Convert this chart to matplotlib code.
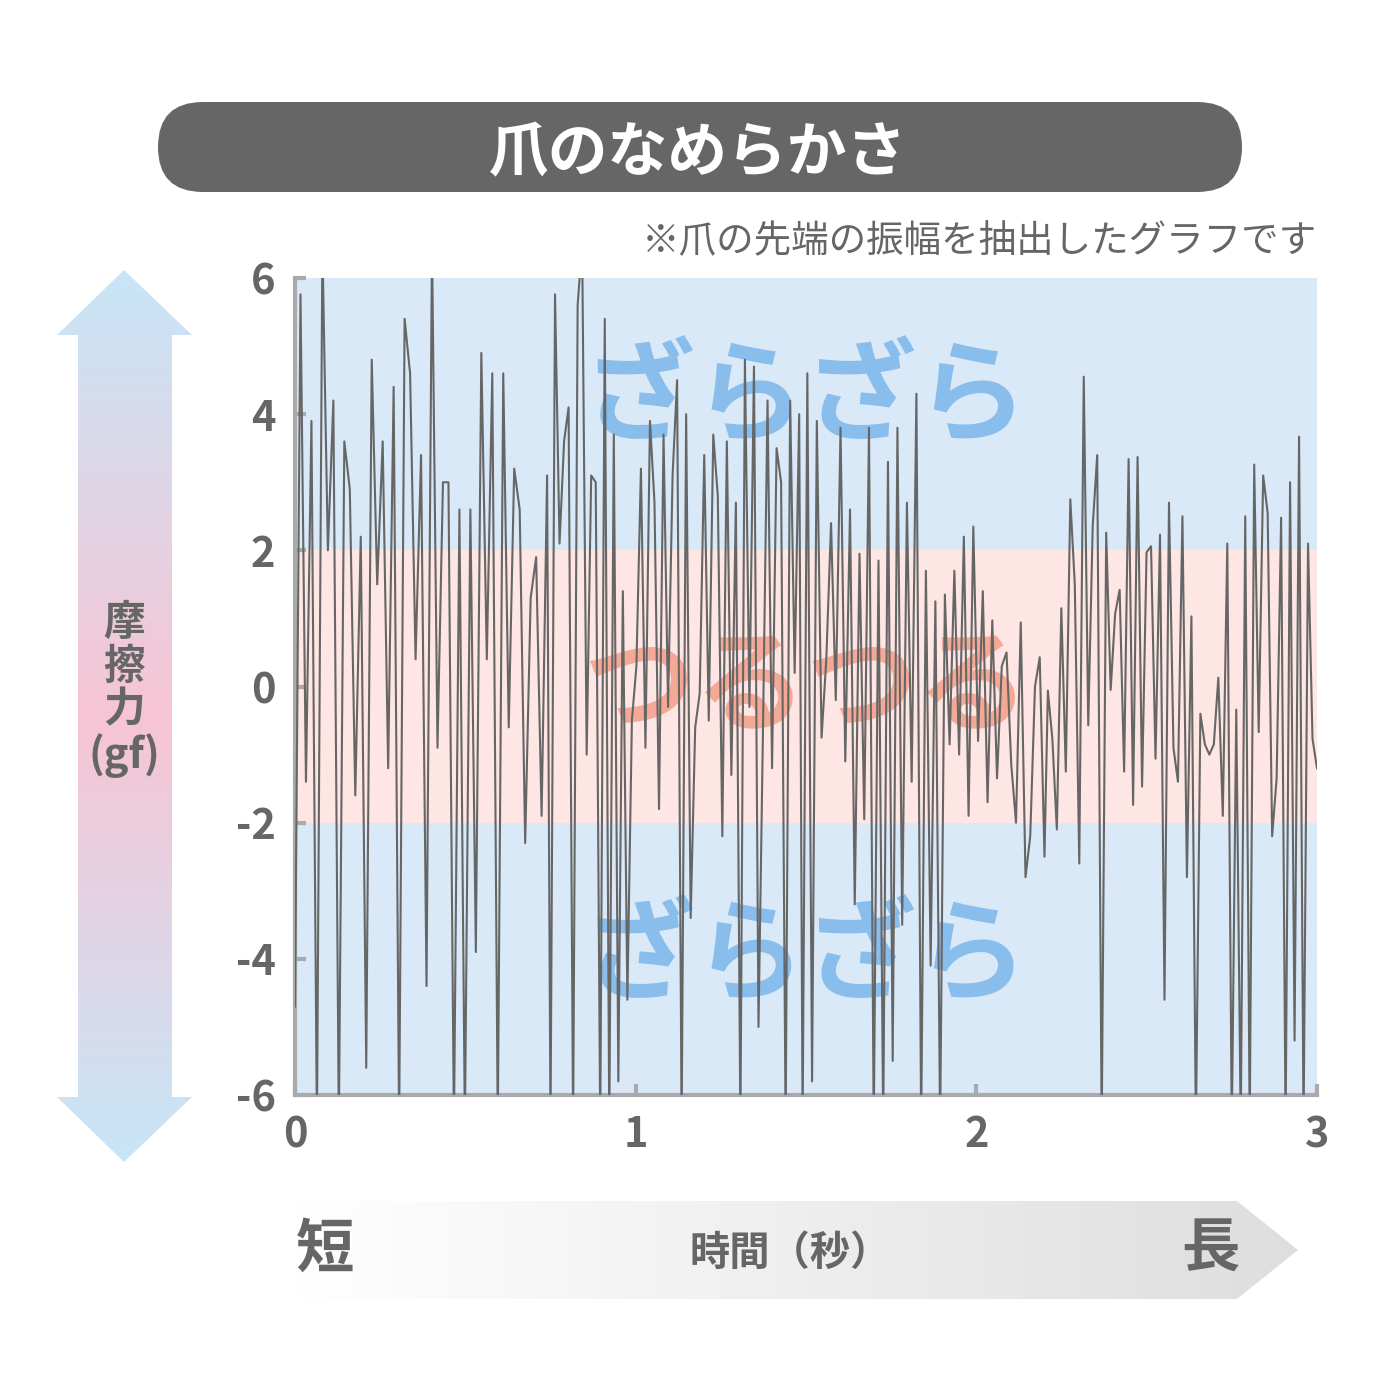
import numpy as np
import matplotlib
matplotlib.use("Agg")
import matplotlib.pyplot as plt
from matplotlib.patches import FancyBboxPatch, Polygon

plt.rcParams['font.family'] = ['Noto Sans CJK JP', 'DejaVu Sans']

title = "爪のなめらかさ"
note = "※爪の先端の振幅を抽出したグラフです"
ylabel = "摩\n擦\n力\n(gf)"
xlabel = "時間（秒）"
yticks = [-6, -4, -2, 0, 2, 4, 6]
xticks = [0, 1, 2, 3]

seg1 = [-4.7,5.76,-1.4,3.9,-6.5,6.5,2.0,4.2,-6.5,3.6,2.9,-1.6,2.2,-5.6,4.8,1.5,3.6,-1.2,4.4,-6.5,5.4,4.6,0.4,3.4,-4.4,6.5,-0.9,3.0,3.0,-6.5,2.6,-6.5,2.6,-3.9,4.9,0.4,4.6,-6.5,4.6,-0.6,3.2,2.6,-2.3,1.3,1.9,-1.9,3.1]
seg2 = [-6.5,5.76,2.1,3.6,4.1,-6.5,5.6,6.5,-1.0,3.1,3.0,-6.5,5.4,-6.5,3.7,-5.8,1.4,-4.6,-0.5,0.3,3.2,-0.9,3.9,2.7,-1.8,3.7,-0.3,3.1,4.5,-6.5,4.0,-3.4,-0.6,-0.1,3.4,-0.5,3.7,2.8,-2.2,3.6,-1.3,2.7,-6.5,4.8,-0.3,4.7,-5.0,-0.6,4.2,-1.2,3.5,3.0,-6.5,4.2,0.2,4.0]
seg3 = [-6.5,4.6,-5.8,3.9,-0.75,0.4,2.4,-0.2,3.8,-1.1,2.6,-3.2,1.95,-1.95,3.8,-6.5,1.85,-6.5,3.3,-5.5,3.8,-3.5,2.7,-1.4,4.3,-6.5,1.7,-4.1,1.25,-6.5,1.35,-0.85,1.7,-1.0,2.2,-1.9,2.35,-0.8,1.4,-1.7,0.97,-1.35,0.3,0.5,-1.15,-2.0,0.94,-2.8,-2.2,0.0,0.43,-2.5]
seg4 = [-0.06,-0.77,-2.1,1.15,-1.25,2.75,1.5,-2.6,4.55,-0.57,2.36,3.4,-6.5,2.26,-0.05,1.07,1.42,-1.25,3.34,-1.74,3.37,-1.47,1.97,2.06,-1.06,2.23,-4.6,2.7,-0.9,-1.4,2.5,-2.8,1.03,-6.5,-0.4,-0.85,-1.0,-0.85,0.13,-1.9,2.1,-6.5,-0.34,-6.5,2.5,-6.5,3.26,-0.67,3.1,2.55,-2.2,-1.35,2.48,-6.5,3.0,-5.2,3.67,-6.5,2.1,-0.77,-1.2]
seg_bounds = [(0.0, 0.74), (0.75, 1.48), (1.49, 2.20), (2.21, 3.0)]

t = np.concatenate([np.linspace(a, b, len(s)) for (a, b), s in zip(seg_bounds, [seg1, seg2, seg3, seg4])])
v = np.concatenate([seg1, seg2, seg3, seg4])

W = H = 1400
fig = plt.figure(figsize=(14, 14), dpi=100)
bg = fig.add_axes([0, 0, 1, 1], zorder=0)
bg.set_xlim(0, W); bg.set_ylim(H, 0); bg.axis('off')

# title banner
bg.add_patch(FancyBboxPatch((158, 102), 1084, 90, boxstyle="round,pad=0,rounding_size=45", fc='#666666', ec='none'))
bg.text(698, 154, title, color='white', fontsize=43, fontweight='bold', ha='center', va='center')
bg.text(1317, 242, note, color='#666666', fontsize=27, ha='right', va='center')

# vertical gradient arrow
vpoly = Polygon([(124, 270), (192, 335), (172, 335), (172, 1097), (192, 1097), (124, 1162),
                 (57, 1097), (78, 1097), (78, 335), (57, 335)], closed=True, fc='none', ec='none')
bg.add_patch(vpoly)
yy = np.linspace(0, 1, 256)
blue = np.array([0.78, 0.90, 0.97]); pink = np.array([0.97, 0.77, 0.83])
w = 1 - np.abs(yy - 0.5) * 2
col = blue[None, :] * (1 - w[:, None]) + pink[None, :] * w[:, None]
im = bg.imshow(col[:, None, :], extent=(57, 192, 1162, 270), aspect='auto', zorder=1)
im.set_clip_path(vpoly)
bg.text(124, 690, ylabel, color='#666666', fontsize=30, fontweight='bold', ha='center', va='center',
        linespacing=1.05)

# horizontal gradient arrow
hpoly = Polygon([(295, 1201), (1237, 1201), (1298, 1250), (1237, 1299), (295, 1299)], closed=True, fc='none', ec='none')
bg.add_patch(hpoly)
xx = np.linspace(0, 1, 256)
hcol = np.ones((1, 256, 3)) * (1 - 0.13 * xx)[None, :, None]
im2 = bg.imshow(hcol, extent=(295, 1298, 1299, 1201), aspect='auto', zorder=1)
im2.set_clip_path(hpoly)
bg.text(325, 1250, "短", color='#666666', fontsize=42, fontweight='bold', ha='center', va='center')
bg.text(1210, 1250, "長", color='#666666', fontsize=42, fontweight='bold', ha='center', va='center')
bg.text(790, 1253, xlabel, color='#666666', fontsize=29, fontweight='bold', ha='center', va='center')

# main axes
ax = fig.add_axes([295 / W, 1 - 1095 / H, 1022 / W, 817 / H], zorder=2)
ax.set_xlim(0, 3); ax.set_ylim(-6, 6)
ax.axhspan(2, 6, color='#d9e9f7', zorder=0, lw=0)
ax.axhspan(-6, -2, color='#d9e9f7', zorder=0, lw=0)
ax.axhspan(-2, 2, color='#fde6e3', zorder=0, lw=0)
ax.text(1.5, 4.2, "ざらざら", color='#88bdec', fontsize=80, fontweight='bold', ha='center', va='center', zorder=1)
ax.text(1.5, -0.05, "つるつる", color='#f4a996', fontsize=80, fontweight='bold', ha='center', va='center', zorder=1)
ax.text(1.5, -4.0, "ざらざら", color='#88bdec', fontsize=80, fontweight='bold', ha='center', va='center', zorder=1)
ax.plot(t, v, color='#666666', lw=1.5, zorder=3)

for s in ['top', 'right']:
    ax.spines[s].set_visible(False)
for s in ['left', 'bottom']:
    ax.spines[s].set_color('#aaaaaa'); ax.spines[s].set_linewidth(3)
ax.set_xticks(xticks); ax.set_yticks(yticks)
ax.set_xticklabels([str(x) for x in xticks])
ax.set_yticklabels([str(y) for y in yticks])
ax.tick_params(colors='#aaaaaa', width=3, length=8, direction='in', labelsize=30, labelcolor='#666666', pad=14)
for lab in ax.get_xticklabels() + ax.get_yticklabels():
    lab.set_fontweight('bold')

fig.savefig("out.png", dpi=100)
